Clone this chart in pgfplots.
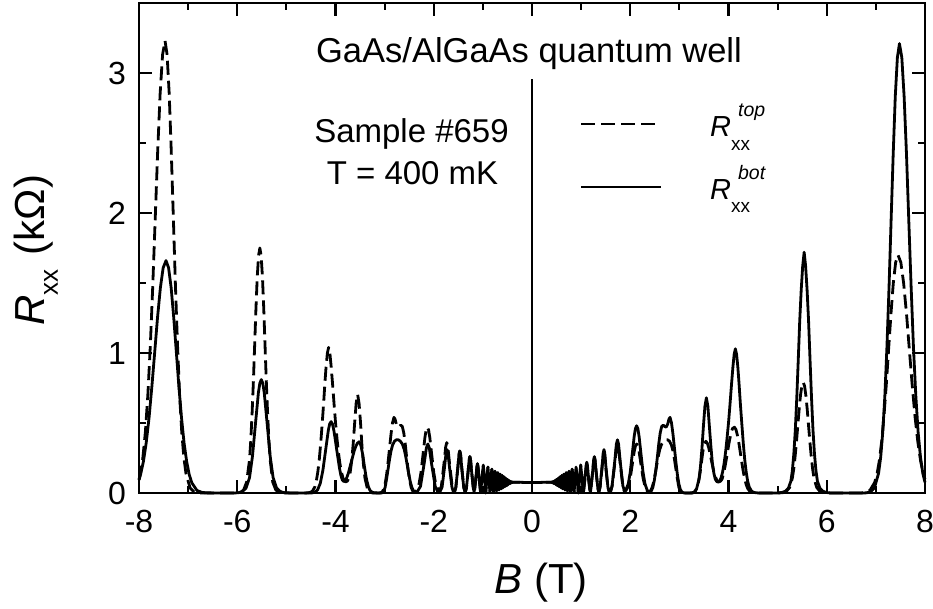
\documentclass[border=0pt]{standalone}
\usepackage{fontspec}
\setmainfont{Liberation Sans}
\usepackage{pgfplots}
\pgfplotsset{compat=1.18}
\begin{document}
\begin{tikzpicture}
\useasboundingbox (-139pt,-115pt) rectangle (794pt,493pt);
\begin{axis}[
  at={(0pt,0pt)}, anchor=south west,
  width=786pt, height=490pt, scale only axis,
  xmin=-8, xmax=8, ymin=0, ymax=3.5,
  xtick={-8,-6,-4,-2,0,2,4,6,8},
  xticklabels={-8,-6,-4,-2,0,2,4,6,8},
  ytick={0,1,2,3}, yticklabels={0,1,2,3},
  minor x tick num=1, minor y tick num=1,
  tick align=inside, xtick pos=both, ytick pos=both,
  major tick length=13pt, minor tick length=7pt,
  every tick/.style={black, line width=2.2pt},
  axis line style={line width=2.6pt},
  xticklabel style={font=\fontsize{32}{32}\selectfont, inner sep=0pt, yshift=-17pt},
  yticklabel style={font=\fontsize{32}{32}\selectfont, inner sep=0pt, xshift=-13pt},
  clip=false,
]
\addplot[black, line width=2.8pt, line join=round, dash pattern=on 14pt off 6pt] table {
x y
-8.00 0.096
-7.97 0.142
-7.92 0.257
-7.87 0.437
-7.82 0.699
-7.77 1.049
-7.72 1.479
-7.67 1.959
-7.62 2.438
-7.57 2.851
-7.52 3.131
-7.47 3.23
-7.428 3.131
-7.385 2.851
-7.343 2.438
-7.30 1.959
-7.258 1.479
-7.215 1.049
-7.173 0.699
-7.13 0.437
-7.088 0.257
-7.045 0.142
-6.96 0.036
-6.875 0.007
-6.80 0.001
-6.5 0
-6.0 0
-5.93 0.004
-5.87 0.022
-5.81 0.077
-5.75 0.237
-5.724 0.379
-5.698 0.568
-5.671 0.801
-5.645 1.061
-5.619 1.321
-5.593 1.544
-5.566 1.696
-5.54 1.75
-5.514 1.696
-5.487 1.544
-5.461 1.321
-5.435 1.061
-5.409 0.801
-5.382 0.568
-5.356 0.379
-5.33 0.237
-5.277 0.077
-5.215 0.022
-5.15 0.004
-5.0 0
-4.62 0
-4.55 0.002
-4.50 0.006
-4.46 0.018
-4.42 0.045
-4.39 0.086
-4.36 0.15
-4.33 0.24
-4.30 0.36
-4.27 0.50
-4.24 0.65
-4.215 0.79
-4.19 0.91
-4.165 1.00
-4.14 1.04
-4.115 1.00
-4.09 0.91
-4.06 0.78
-4.03 0.64
-4.00 0.505
-3.97 0.39
-3.94 0.29
-3.91 0.21
-3.88 0.15
-3.85 0.11
-3.82 0.085
-3.79 0.08
-3.76 0.085
-3.73 0.105
-3.70 0.15
-3.67 0.23
-3.64 0.35
-3.61 0.50
-3.58 0.64
-3.55 0.705
-3.52 0.64
-3.49 0.50
-3.46 0.33
-3.43 0.20
-3.40 0.105
-3.35 0.031
-3.30 0.006
-3.25 0.001
-3.15 0
-3.09 0.001
-3.05 0.008
-3.02 0.025
-2.99 0.065
-2.96 0.13
-2.93 0.22
-2.90 0.32
-2.87 0.42
-2.84 0.50
-2.81 0.54
-2.79 0.53
-2.76 0.49
-2.73 0.47
-2.70 0.475
-2.67 0.485
-2.64 0.475
-2.61 0.43
-2.58 0.35
-2.55 0.25
-2.52 0.16
-2.49 0.09
-2.46 0.04
-2.43 0.015
-2.41 0.008
-2.38 0.006
-2.345 0.02
-2.30 0.064
-2.26 0.146
-2.215 0.285
-2.18 0.396
-2.155 0.45
-2.13 0.47
-2.105 0.45
-2.08 0.396
-2.045 0.285
-2.00 0.146
-1.96 0.064
-1.91 0.022
-1.88 0.02
-1.845 0.048
-1.79 0.216
-1.757 0.33
-1.735 0.36
-1.713 0.33
-1.68 0.216
-1.625 0.048
-1.595 0.011
-1.58 0.005
-1.55 0.041
-1.51 0.18
-1.486 0.276
-1.47 0.30
-1.454 0.276
-1.43 0.18
-1.39 0.041
-1.36 0.005
-1.335 0.035
-1.30 0.156
-1.279 0.239
-1.265 0.26
-1.251 0.239
-1.23 0.156
-1.195 0.035
-1.18 0.01
-1.166 0.027
-1.138 0.12
-1.121 0.184
-1.11 0.20
-1.099 0.184
-1.082 0.12
-1.054 0.027
-1.045 0.005
-0.992 0.20
-0.942 0.0
-0.897 0.185
-0.856 0.004
-0.818 0.17
-0.784 0.008
-0.752 0.155
-0.723 0.015
-0.696 0.145
-0.671 0.022
-0.648 0.135
-0.626 0.03
-0.606 0.125
-0.587 0.038
-0.569 0.115
-0.552 0.045
-0.536 0.105
-0.522 0.052
-0.507 0.098
-0.494 0.058
-0.481 0.092
-0.469 0.064
-0.458 0.087
-0.447 0.068
-0.436 0.083
-0.426 0.072
-0.417 0.08
-0.40 0.076
-0.30 0.077
-0.20 0.076
-0.10 0.075
0.00 0.075
0.10 0.075
0.20 0.076
0.30 0.077
0.40 0.076
0.417 0.08
0.426 0.072
0.436 0.083
0.447 0.068
0.458 0.087
0.469 0.064
0.481 0.092
0.494 0.058
0.507 0.098
0.522 0.052
0.536 0.105
0.552 0.045
0.569 0.115
0.587 0.038
0.606 0.125
0.626 0.03
0.648 0.135
0.671 0.022
0.696 0.145
0.723 0.015
0.752 0.155
0.784 0.008
0.818 0.17
0.856 0.004
0.897 0.185
0.942 0.0
0.992 0.20
1.045 0.005
1.055 0.027
1.085 0.12
1.103 0.184
1.115 0.20
1.127 0.184
1.145 0.12
1.175 0.027
1.19 0.006
1.20 0.034
1.235 0.15
1.256 0.23
1.27 0.25
1.284 0.23
1.305 0.15
1.34 0.034
1.36 0.006
1.385 0.039
1.425 0.174
1.449 0.267
1.465 0.29
1.481 0.267
1.505 0.174
1.545 0.039
1.575 0.005
1.60 0.011
1.63 0.047
1.685 0.21
1.718 0.322
1.74 0.35
1.762 0.322
1.795 0.21
1.85 0.047
1.88 0.011
1.91 0.016
1.96 0.047
2.00 0.108
2.045 0.212
2.08 0.295
2.105 0.335
2.13 0.35
2.155 0.335
2.18 0.295
2.215 0.212
2.26 0.108
2.30 0.047
2.345 0.015
2.38 0.005
2.42 0.02
2.45 0.045
2.48 0.085
2.51 0.14
2.54 0.20
2.57 0.26
2.60 0.31
2.64 0.35
2.68 0.37
2.72 0.38
2.76 0.38
2.80 0.37
2.84 0.34
2.87 0.30
2.90 0.24
2.93 0.17
2.96 0.10
2.99 0.04
3.02 0.01
3.06 0
3.26 0
3.30 0.004
3.33 0.015
3.36 0.04
3.39 0.08
3.42 0.14
3.45 0.22
3.48 0.30
3.51 0.35
3.54 0.37
3.57 0.355
3.60 0.32
3.63 0.27
3.66 0.22
3.69 0.17
3.72 0.13
3.75 0.10
3.78 0.085
3.81 0.08
3.84 0.085
3.87 0.10
3.90 0.14
3.93 0.19
3.96 0.25
3.99 0.315
4.02 0.375
4.05 0.425
4.08 0.46
4.12 0.47
4.15 0.455
4.18 0.415
4.21 0.36
4.24 0.29
4.27 0.22
4.30 0.155
4.33 0.10
4.36 0.06
4.39 0.033
4.43 0.013
4.48 0.004
4.55 0
5.0 0
5.12 0.003
5.18 0.012
5.245 0.04
5.30 0.107
5.328 0.171
5.355 0.257
5.383 0.362
5.41 0.479
5.438 0.596
5.465 0.697
5.493 0.766
5.52 0.79
5.548 0.766
5.575 0.697
5.603 0.596
5.63 0.479
5.658 0.362
5.685 0.257
5.713 0.171
5.74 0.107
5.795 0.04
5.86 0.012
5.92 0.003
6.0 0
6.70 0
6.785 0.004
6.88 0.019
6.975 0.075
7.023 0.135
7.07 0.230
7.118 0.368
7.165 0.552
7.213 0.778
7.26 1.031
7.308 1.283
7.355 1.500
7.403 1.648
7.45 1.70
7.508 1.648
7.565 1.500
7.623 1.283
7.68 1.031
7.738 0.778
7.795 0.552
7.853 0.368
7.91 0.230
7.968 0.135
8.00 0.098
};
\addplot[black, line width=2.8pt, line join=round] table {
x y
-8.00 0.093
-7.968 0.132
-7.91 0.225
-7.853 0.359
-7.795 0.539
-7.738 0.760
-7.68 1.007
-7.623 1.253
-7.565 1.465
-7.508 1.609
-7.45 1.66
-7.398 1.609
-7.345 1.465
-7.293 1.253
-7.24 1.007
-7.188 0.760
-7.135 0.539
-7.083 0.359
-7.03 0.225
-6.978 0.132
-6.925 0.073
-6.82 0.018
-6.715 0.004
-6.61 0.001
-6.3 0
-6.05 0
-5.96 0.003
-5.89 0.012
-5.82 0.036
-5.75 0.110
-5.69 0.263
-5.63 0.491
-5.57 0.715
-5.54 0.785
-5.51 0.81
-5.48 0.785
-5.45 0.715
-5.39 0.491
-5.33 0.263
-5.27 0.110
-5.20 0.036
-5.13 0.012
-5.06 0.003
-4.90 0
-4.60 0
-4.475 0.001
-4.42 0.006
-4.365 0.022
-4.31 0.069
-4.255 0.166
-4.20 0.309
-4.145 0.450
-4.118 0.494
-4.09 0.51
-4.063 0.494
-4.035 0.450
-4.008 0.390
-3.98 0.320
-3.95 0.25
-3.92 0.18
-3.89 0.125
-3.86 0.092
-3.83 0.082
-3.80 0.09
-3.77 0.11
-3.74 0.14
-3.71 0.18
-3.68 0.22
-3.65 0.26
-3.62 0.30
-3.59 0.33
-3.555 0.355
-3.52 0.366
-3.50 0.355
-3.48 0.335
-3.46 0.30
-3.44 0.26
-3.42 0.21
-3.40 0.165
-3.38 0.12
-3.36 0.085
-3.33 0.045
-3.30 0.02
-3.26 0.007
-3.22 0.002
-3.12 0
-3.06 0
-3.02 0.01
-2.99 0.04
-2.96 0.10
-2.93 0.17
-2.90 0.24
-2.87 0.30
-2.84 0.34
-2.80 0.37
-2.76 0.38
-2.72 0.38
-2.68 0.37
-2.64 0.35
-2.60 0.31
-2.57 0.26
-2.54 0.20
-2.51 0.14
-2.48 0.085
-2.45 0.045
-2.42 0.02
-2.39 0.009
-2.345 0.004
-2.27 0.047
-2.195 0.21
-2.15 0.322
-2.12 0.35
-2.09 0.322
-2.045 0.21
-1.97 0.047
-1.92 0.01
-1.88 0.004
-1.83 0.042
-1.78 0.186
-1.75 0.285
-1.73 0.31
-1.71 0.285
-1.68 0.186
-1.63 0.042
-1.60 0.008
-1.58 0.004
-1.55 0.041
-1.51 0.18
-1.486 0.276
-1.47 0.30
-1.454 0.276
-1.43 0.18
-1.39 0.041
-1.36 0.004
-1.335 0.035
-1.30 0.156
-1.279 0.239
-1.265 0.26
-1.251 0.239
-1.23 0.156
-1.195 0.035
-1.18 0.01
-1.166 0.03
-1.138 0.126
-1.121 0.193
-1.11 0.21
-1.099 0.193
-1.082 0.126
-1.054 0.03
-1.045 0.005
-0.992 0.20
-0.942 0.0
-0.897 0.185
-0.856 0.004
-0.818 0.17
-0.784 0.008
-0.752 0.155
-0.723 0.015
-0.696 0.145
-0.671 0.022
-0.648 0.135
-0.626 0.03
-0.606 0.125
-0.587 0.038
-0.569 0.115
-0.552 0.045
-0.536 0.105
-0.522 0.052
-0.507 0.098
-0.494 0.058
-0.481 0.092
-0.469 0.064
-0.458 0.087
-0.447 0.068
-0.436 0.083
-0.426 0.072
-0.417 0.08
-0.40 0.076
-0.30 0.077
-0.20 0.076
-0.10 0.075
0.00 0.075
0.10 0.075
0.20 0.076
0.30 0.077
0.40 0.076
0.417 0.08
0.426 0.072
0.436 0.083
0.447 0.068
0.458 0.087
0.469 0.064
0.481 0.092
0.494 0.058
0.507 0.098
0.522 0.052
0.536 0.105
0.552 0.045
0.569 0.115
0.587 0.038
0.606 0.125
0.626 0.03
0.648 0.135
0.671 0.022
0.696 0.145
0.723 0.015
0.752 0.155
0.784 0.008
0.818 0.17
0.856 0.004
0.897 0.185
0.942 0.0
0.992 0.20
1.045 0.005
1.055 0.03
1.085 0.132
1.103 0.202
1.115 0.22
1.127 0.202
1.145 0.132
1.175 0.03
1.19 0.006
1.20 0.035
1.235 0.156
1.256 0.239
1.27 0.26
1.284 0.239
1.305 0.156
1.34 0.035
1.36 0.006
1.385 0.042
1.425 0.186
1.449 0.285
1.465 0.31
1.481 0.285
1.505 0.186
1.545 0.042
1.575 0.005
1.60 0.012
1.63 0.051
1.685 0.228
1.718 0.35
1.74 0.38
1.762 0.35
1.795 0.228
1.85 0.051
1.88 0.02
1.91 0.022
1.96 0.065
2.00 0.149
2.045 0.291
2.08 0.404
2.105 0.46
2.13 0.48
2.155 0.46
2.18 0.404
2.215 0.291
2.26 0.149
2.30 0.065
2.345 0.02
2.38 0.008
2.41 0.008
2.43 0.015
2.46 0.04
2.49 0.09
2.52 0.16
2.55 0.25
2.58 0.35
2.61 0.43
2.64 0.475
2.67 0.485
2.70 0.475
2.73 0.47
2.76 0.49
2.79 0.53
2.81 0.54
2.84 0.50
2.87 0.42
2.90 0.32
2.93 0.22
2.96 0.13
2.99 0.065
3.02 0.025
3.05 0.008
3.09 0.001
3.15 0
3.25 0.001
3.30 0.006
3.35 0.03
3.40 0.10
3.43 0.19
3.46 0.32
3.49 0.48
3.52 0.62
3.55 0.68
3.58 0.62
3.61 0.48
3.64 0.34
3.67 0.22
3.70 0.145
3.73 0.10
3.76 0.082
3.79 0.078
3.82 0.085
3.85 0.11
3.88 0.15
3.91 0.21
3.94 0.29
3.97 0.39
4.00 0.50
4.03 0.63
4.06 0.77
4.09 0.90
4.115 0.99
4.14 1.03
4.165 0.99
4.19 0.90
4.215 0.78
4.24 0.645
4.27 0.50
4.30 0.36
4.33 0.24
4.36 0.15
4.39 0.085
4.42 0.045
4.46 0.018
4.50 0.006
4.55 0.002
4.62 0
5.0 0
5.09 0.004
5.16 0.013
5.22 0.035
5.27 0.085
5.30 0.16
5.33 0.28
5.36 0.45
5.39 0.68
5.42 0.95
5.45 1.23
5.48 1.45
5.51 1.62
5.54 1.72
5.57 1.62
5.60 1.45
5.63 1.23
5.66 0.95
5.69 0.68
5.72 0.45
5.75 0.28
5.78 0.16
5.81 0.085
5.86 0.035
5.92 0.013
5.99 0.004
6.08 0
6.70 0
6.80 0.001
6.885 0.007
6.97 0.036
7.055 0.141
7.098 0.256
7.14 0.434
7.183 0.695
7.225 1.042
7.268 1.470
7.31 1.947
7.353 2.423
7.395 2.833
7.438 3.111
7.48 3.21
7.528 3.111
7.575 2.833
7.623 2.423
7.67 1.947
7.718 1.470
7.765 1.042
7.813 0.695
7.86 0.434
7.908 0.256
7.955 0.141
8.00 0.076
};
\addplot[black, line width=2.4pt] coordinates {(0,0) (0,2.96)};
\end{axis}
% annotations (canvas: x = px-139, y = 493-py)
\node[anchor=base, font=\fontsize{34.5}{34.5}\selectfont] at (390pt,430pt) {GaAs/AlGaAs quantum well};
\node[anchor=base, font=\fontsize{33}{33}\selectfont] at (272.5pt,350pt) {Sample \#659};
\node[anchor=base, font=\fontsize{33}{33}\selectfont] at (273.5pt,308pt) {T = 400 mK};
% legend
\draw[black, line width=2.6pt, dash pattern=on 14pt off 6pt] (442pt,369pt) -- (516pt,369pt);
\draw[black, line width=2.6pt] (442pt,306pt) -- (522pt,306pt);
\node[anchor=base west, inner sep=0pt, font=\fontsize{29}{29}\selectfont] at (571pt,356pt)
  {\textit{R}\rlap{\hspace{7pt}\raisebox{20pt}{\fontsize{19.5}{20}\selectfont\itshape top}}\raisebox{-14pt}{\fontsize{19}{20}\selectfont xx}};
\node[anchor=base west, inner sep=0pt, font=\fontsize{29}{29}\selectfont] at (571pt,293pt)
  {\textit{R}\rlap{\hspace{7pt}\raisebox{20pt}{\fontsize{19.5}{20}\selectfont\itshape bot}}\raisebox{-13pt}{\fontsize{19}{20}\selectfont xx}};
% axis labels
\node[anchor=base, inner sep=0pt, font=\fontsize{42}{42}\selectfont] at (402pt,-100pt) {\textit{B} (T)};
\node[anchor=base, rotate=90, inner sep=0pt, font=\fontsize{42}{42}\selectfont] at (-94pt,243pt)
  {\textit{R}\raisebox{-13pt}{\fontsize{26}{26}\selectfont xx}\hspace{14pt}(kΩ)};
\end{tikzpicture}
\end{document}
